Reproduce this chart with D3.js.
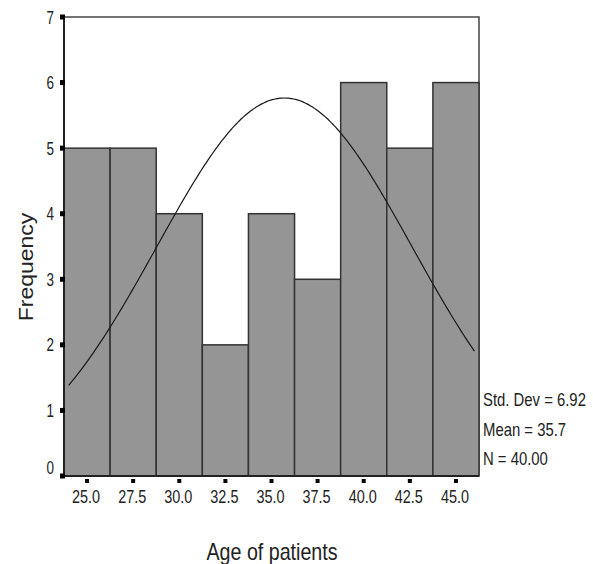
<!DOCTYPE html>
<html><head><meta charset="utf-8">
<script src="https://cdn.jsdelivr.net/npm/d3@7"></script>
<style>body{margin:0;background:#fff}</style>
</head><body>
<svg id="c" width="593" height="564"></svg>
<script>
const binCenters = [25.0, 27.5, 30.0, 32.5, 35.0, 37.5, 40.0, 42.5, 45.0];
const frequencies = [5, 5, 4, 2, 4, 3, 6, 5, 6];
const yTicks = [0, 1, 2, 3, 4, 5, 6, 7];
const xTickLabels = ["25.0", "27.5", "30.0", "32.5", "35.0", "37.5", "40.0", "42.5", "45.0"];
const stats = ["Std. Dev = 6.92", "Mean = 35.7", "N = 40.00"];
const mean = 35.7, sd = 6.92, n = 40, binWidth = 2.5;

const font = "'Liberation Sans',Arial,sans-serif";
const svg = d3.select("#c");
const L = 64, R = 479, T = 17, B = 476;
const x = d3.scaleLinear().domain([23.75, 46.25]).range([L, R]);
const y = d3.scaleLinear().domain([0, 7]).range([B, T]);

function label(px, py, txt, size, sx, anchor, rot) {
  const g = svg.append("g").attr("transform", `translate(${px},${py})` + (rot ? ` rotate(${rot}) scale(1,${sx})` : ` scale(${sx},1)`));
  g.append("text").attr("text-anchor", anchor).attr("font-family", font)
    .attr("font-size", size).attr("fill", "#222").text(txt);
}

// frame
svg.append("path").attr("d", `M${L},${T}H${R}V${B}`).attr("fill","none").attr("stroke","#444").attr("stroke-width",1.5);

// bars
svg.selectAll("rect.bar").data(binCenters).enter().append("rect")
  .attr("x", d => x(d - binWidth/2)).attr("width", d => x(d + binWidth/2) - x(d - binWidth/2))
  .attr("y", (d,i) => y(frequencies[i])).attr("height", (d,i) => y(0) - y(frequencies[i]))
  .attr("fill", "#959595").attr("stroke", "#333").attr("stroke-width", 1.5);

// normal curve
const pts = d3.range(24, 46.001, 0.1).map(v => [v, n*binWidth/(sd*Math.sqrt(2*Math.PI))*Math.exp(-0.5*((v-mean)/sd)**2)]);
svg.append("path").datum(pts)
  .attr("d", d3.line().x(d => x(d[0])).y(d => y(d[1])).curve(d3.curveBasis))
  .attr("fill","none").attr("stroke","#1a1a1a").attr("stroke-width",1.2);

// axes lines
svg.append("line").attr("x1",L).attr("x2",L).attr("y1",T).attr("y2",B+1).attr("stroke","#222").attr("stroke-width",2);
svg.append("line").attr("x1",L).attr("x2",R).attr("y1",B).attr("y2",B).attr("stroke","#222").attr("stroke-width",2);

// y ticks
yTicks.forEach(t => {
  svg.append("rect").attr("x", L-4).attr("y", y(t)-2.5).attr("width",5).attr("height",5).attr("fill","#000");
  label(L-10, y(t) + 6.5 - (t === 0 ? 9 : 0), String(t), 18, 0.75, "end");
});
// x ticks
binCenters.forEach((c,i) => {
  svg.append("rect").attr("x", x(c)-2).attr("y", B+3).attr("width",4).attr("height",4).attr("fill","#000");
  label(x(c)-1, 503, xTickLabels[i], 18.5, 0.78, "middle");
});

// stats
const statY = [406, 436, 465];
stats.forEach((s,i) => label(483, statY[i], s, 17.5, 0.85, "start"));

// axis titles
label(33, 267, "Frequency", 23, 0.87, "middle", -90);
label(272, 560, "Age of patients", 23, 0.855, "middle");
</script>
</body></html>
